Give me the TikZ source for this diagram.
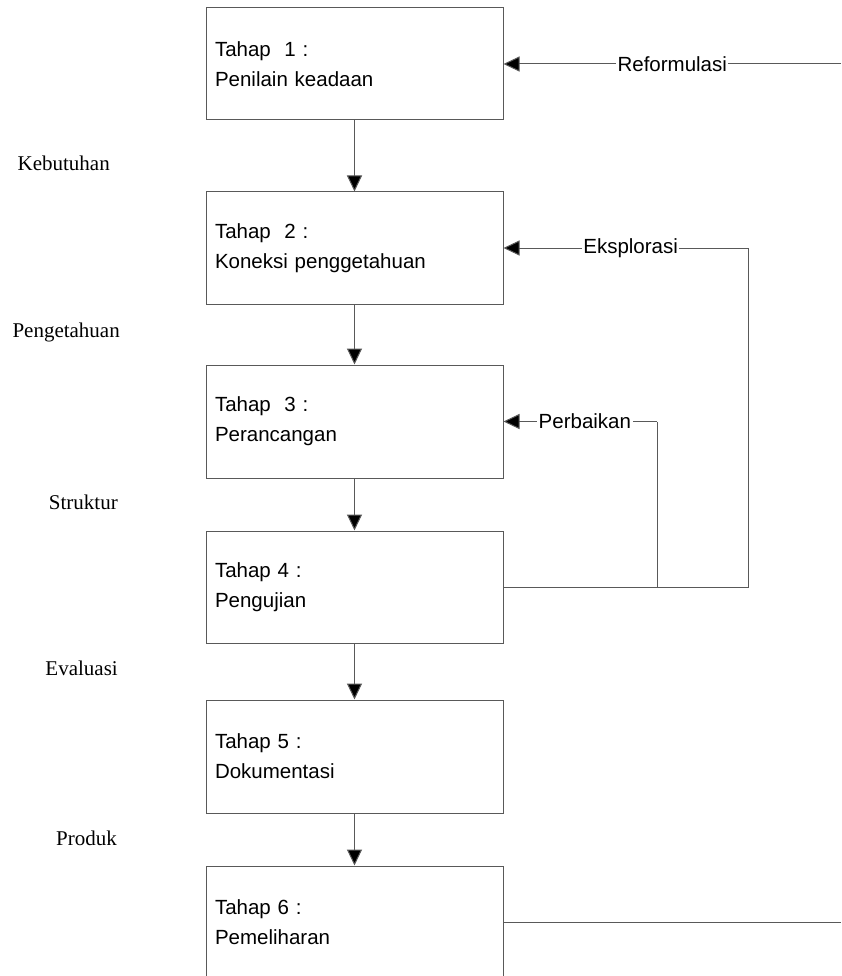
\documentclass[tikz,border=0pt]{standalone}
\usepackage{fontspec}
\setmainfont{Liberation Serif}
\setsansfont{Liberation Sans}
\usetikzlibrary{arrows.meta}
\tikzset{
  ln/.style={draw=black!65, line width=1pt},
  stagebox/.style={ln, fill=white, minimum width=297pt, text width=279pt,
    inner xsep=9pt, inner ysep=0pt, align=left,
    font=\sffamily\fontsize{20.5}{30}\selectfont},
  flow/.style={ln, -{Triangle[length=16pt,width=15pt,fill=black]}},
  lbl/.style={fill=white, inner sep=1.5pt, font=\sffamily\fontsize{20.5}{24}\selectfont},
  side/.style={anchor=east, inner sep=0pt, font=\rmfamily\fontsize{21}{24}\selectfont}
}
\begin{document}
\begin{tikzpicture}[x=1pt,y=-1pt]
\useasboundingbox (0,0) rectangle (841,976);
\clip (0,0) rectangle (841,976);
\fill[white] (0,0) rectangle (841,976);

\node[stagebox, minimum height=112pt] (b1) at (354.5,64) {Tahap\ \ 1 :\\Penilain keadaan};
\node[stagebox, minimum height=112pt] (b2) at (354.5,248) {Tahap\ \ 2 :\\Koneksi penggetahuan};
\node[stagebox, minimum height=113pt] (b3) at (354.5,421.5) {Tahap\ \ 3 :\\Perancangan};
\node[stagebox, minimum height=112pt] (b4) at (354.5,587) {Tahap 4 :\\Pengujian};
\node[stagebox, minimum height=113pt] (b5) at (354.5,756.5) {Tahap 5 :\\Dokumentasi};
\node[stagebox, minimum height=112pt] (b6) at (354.5,922) {Tahap 6 :\\Pemeliharan};

\node[side] (k1) at (110,163) {Kebutuhan};
\node[side] (k2) at (120,332) {Pengetahuan};
\node[side] (k3) at (118,502) {Struktur};
\node[side] (k4) at (118,668) {Evaluasi};
\node[side] (k5) at (117,838) {Produk};

\draw[flow] (b1) -- (b2);
\draw[flow] (b2) -- (b3);
\draw[flow] (b3) -- (b4);
\draw[flow] (b4) -- (b5);
\draw[flow] (b5) -- (b6);

\coordinate (r1) at (841,64);
\draw[flow] (r1) -- node[lbl, pos=0.5] {Reformulasi} (b1.east);

\coordinate (eb) at (748,587);
\coordinate (pb) at (657,587);
\draw[ln] (b4.east) -- (eb) -- (eb |- b2.east);
\draw[flow] (eb |- b2.east) -- node[lbl, pos=0.48] {Eksplorasi} (b2.east);
\draw[ln] (pb) -- (pb |- b3.east);
\draw[flow] (pb |- b3.east) -- node[lbl, pos=0.47] {Perbaikan} (b3.east);

\coordinate (r6) at (841,922);
\draw[ln] (b6.east) -- (r6);
\end{tikzpicture}
\end{document}
